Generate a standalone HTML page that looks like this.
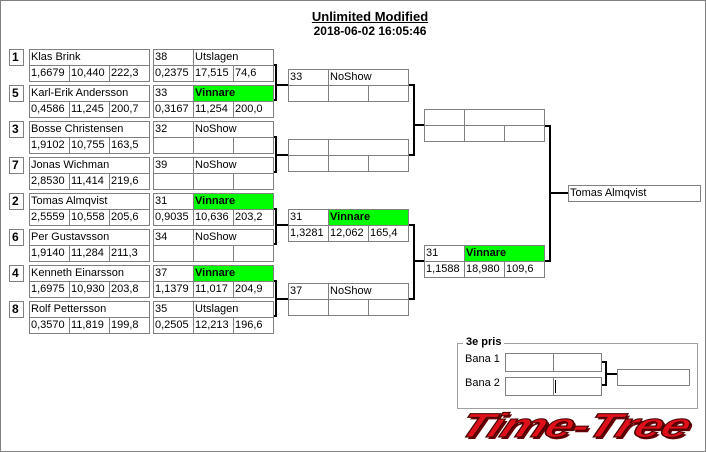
<!DOCTYPE html>
<html><head><meta charset="utf-8"><style>
body{margin:0;width:706px;height:452px;background:#fff;position:relative;overflow:hidden;font-family:"Liberation Sans",sans-serif}
.f{position:absolute;left:0;top:0;width:706px;height:452px;border:1px solid #808080;box-sizing:border-box}
.c{position:absolute;border:1px solid #808080;box-sizing:border-box;height:17px;font-size:11px;line-height:15px;padding-left:1px;white-space:nowrap;overflow:hidden;background:#fff;color:#000}
.s{font-weight:bold;font-size:12px;padding-left:2px}
.g{background:#00ff00;font-weight:bold}
.l{position:absolute;background:#000}
.t{position:absolute;font-size:12px;font-weight:bold;text-align:center;width:706px;left:17px}
</style></head><body>
<div class="f"></div>
<div class="t" style="top:9px;font-size:13px;text-decoration:underline">Unlimited Modified</div>
<div class="t" style="top:24px">2018-06-02 16:05:46</div>

<div class="c s" style="left:9px;top:49px;width:15px">1</div>
<div class="c" style="left:29px;top:49px;width:121px">Klas Brink</div>
<div class="c" style="left:29px;top:65px;width:41px">1,6679</div><div class="c" style="left:69px;top:65px;width:41px">10,440</div><div class="c" style="left:109px;top:65px;width:41px">222,3</div>
<div class="c" style="left:153px;top:49px;width:41px">38</div><div class="c" style="left:193px;top:49px;width:81px">Utslagen</div>
<div class="c" style="left:153px;top:65px;width:41px">0,2375</div><div class="c" style="left:193px;top:65px;width:41px">17,515</div><div class="c" style="left:233px;top:65px;width:41px">74,6</div>

<div class="c s" style="left:9px;top:85px;width:15px">5</div>
<div class="c" style="left:29px;top:85px;width:121px">Karl-Erik Andersson</div>
<div class="c" style="left:29px;top:101px;width:41px">0,4586</div><div class="c" style="left:69px;top:101px;width:41px">11,245</div><div class="c" style="left:109px;top:101px;width:41px">200,7</div>
<div class="c" style="left:153px;top:85px;width:41px">33</div><div class="c g" style="left:193px;top:85px;width:81px">Vinnare</div>
<div class="c" style="left:153px;top:101px;width:41px">0,3167</div><div class="c" style="left:193px;top:101px;width:41px">11,254</div><div class="c" style="left:233px;top:101px;width:41px">200,0</div>

<div class="c s" style="left:9px;top:121px;width:15px">3</div>
<div class="c" style="left:29px;top:121px;width:121px">Bosse Christensen</div>
<div class="c" style="left:29px;top:137px;width:41px">1,9102</div><div class="c" style="left:69px;top:137px;width:41px">10,755</div><div class="c" style="left:109px;top:137px;width:41px">163,5</div>
<div class="c" style="left:153px;top:121px;width:41px">32</div><div class="c" style="left:193px;top:121px;width:81px">NoShow</div>
<div class="c" style="left:153px;top:137px;width:41px"></div><div class="c" style="left:193px;top:137px;width:41px"></div><div class="c" style="left:233px;top:137px;width:41px"></div>

<div class="c s" style="left:9px;top:157px;width:15px">7</div>
<div class="c" style="left:29px;top:157px;width:121px">Jonas Wichman</div>
<div class="c" style="left:29px;top:173px;width:41px">2,8530</div><div class="c" style="left:69px;top:173px;width:41px">11,414</div><div class="c" style="left:109px;top:173px;width:41px">219,6</div>
<div class="c" style="left:153px;top:157px;width:41px">39</div><div class="c" style="left:193px;top:157px;width:81px">NoShow</div>
<div class="c" style="left:153px;top:173px;width:41px"></div><div class="c" style="left:193px;top:173px;width:41px"></div><div class="c" style="left:233px;top:173px;width:41px"></div>

<div class="c s" style="left:9px;top:193px;width:15px">2</div>
<div class="c" style="left:29px;top:193px;width:121px">Tomas Almqvist</div>
<div class="c" style="left:29px;top:209px;width:41px">2,5559</div><div class="c" style="left:69px;top:209px;width:41px">10,558</div><div class="c" style="left:109px;top:209px;width:41px">205,6</div>
<div class="c" style="left:153px;top:193px;width:41px">31</div><div class="c g" style="left:193px;top:193px;width:81px">Vinnare</div>
<div class="c" style="left:153px;top:209px;width:41px">0,9035</div><div class="c" style="left:193px;top:209px;width:41px">10,636</div><div class="c" style="left:233px;top:209px;width:41px">203,2</div>

<div class="c s" style="left:9px;top:229px;width:15px">6</div>
<div class="c" style="left:29px;top:229px;width:121px">Per Gustavsson</div>
<div class="c" style="left:29px;top:245px;width:41px">1,9140</div><div class="c" style="left:69px;top:245px;width:41px">11,284</div><div class="c" style="left:109px;top:245px;width:41px">211,3</div>
<div class="c" style="left:153px;top:229px;width:41px">34</div><div class="c" style="left:193px;top:229px;width:81px">NoShow</div>
<div class="c" style="left:153px;top:245px;width:41px"></div><div class="c" style="left:193px;top:245px;width:41px"></div><div class="c" style="left:233px;top:245px;width:41px"></div>

<div class="c s" style="left:9px;top:265px;width:15px">4</div>
<div class="c" style="left:29px;top:265px;width:121px">Kenneth Einarsson</div>
<div class="c" style="left:29px;top:281px;width:41px">1,6975</div><div class="c" style="left:69px;top:281px;width:41px">10,930</div><div class="c" style="left:109px;top:281px;width:41px">203,8</div>
<div class="c" style="left:153px;top:265px;width:41px">37</div><div class="c g" style="left:193px;top:265px;width:81px">Vinnare</div>
<div class="c" style="left:153px;top:281px;width:41px">1,1379</div><div class="c" style="left:193px;top:281px;width:41px">11,017</div><div class="c" style="left:233px;top:281px;width:41px">204,9</div>

<div class="c s" style="left:9px;top:301px;width:15px">8</div>
<div class="c" style="left:29px;top:301px;width:121px">Rolf Pettersson</div>
<div class="c" style="left:29px;top:317px;width:41px">0,3570</div><div class="c" style="left:69px;top:317px;width:41px">11,819</div><div class="c" style="left:109px;top:317px;width:41px">199,8</div>
<div class="c" style="left:153px;top:301px;width:41px">35</div><div class="c" style="left:193px;top:301px;width:81px">Utslagen</div>
<div class="c" style="left:153px;top:317px;width:41px">0,2505</div><div class="c" style="left:193px;top:317px;width:41px">12,213</div><div class="c" style="left:233px;top:317px;width:41px">196,6</div>

<div class="c" style="left:288px;top:69px;width:41px">33</div><div class="c" style="left:328px;top:69px;width:81px">NoShow</div>
<div class="c" style="left:288px;top:85px;width:41px"></div><div class="c" style="left:328px;top:85px;width:41px"></div><div class="c" style="left:368px;top:85px;width:41px"></div>
<div class="c" style="left:288px;top:139px;width:41px"></div><div class="c" style="left:328px;top:139px;width:81px"></div>
<div class="c" style="left:288px;top:155px;width:41px"></div><div class="c" style="left:328px;top:155px;width:41px"></div><div class="c" style="left:368px;top:155px;width:41px"></div>
<div class="c" style="left:288px;top:209px;width:41px">31</div><div class="c g" style="left:328px;top:209px;width:81px">Vinnare</div>
<div class="c" style="left:288px;top:225px;width:41px">1,3281</div><div class="c" style="left:328px;top:225px;width:41px">12,062</div><div class="c" style="left:368px;top:225px;width:41px">165,4</div>
<div class="c" style="left:288px;top:283px;width:41px">37</div><div class="c" style="left:328px;top:283px;width:81px">NoShow</div>
<div class="c" style="left:288px;top:299px;width:41px"></div><div class="c" style="left:328px;top:299px;width:41px"></div><div class="c" style="left:368px;top:299px;width:41px"></div>

<div class="c" style="left:424px;top:109px;width:41px"></div><div class="c" style="left:464px;top:109px;width:81px"></div>
<div class="c" style="left:424px;top:125px;width:41px"></div><div class="c" style="left:464px;top:125px;width:41px"></div><div class="c" style="left:504px;top:125px;width:41px"></div>
<div class="c" style="left:424px;top:245px;width:41px">31</div><div class="c g" style="left:464px;top:245px;width:81px">Vinnare</div>
<div class="c" style="left:424px;top:261px;width:41px">1,1588</div><div class="c" style="left:464px;top:261px;width:41px">18,980</div><div class="c" style="left:504px;top:261px;width:41px">109,6</div>

<div class="c" style="left:568px;top:185px;width:133px">Tomas Almqvist</div>

<div class="l" style="left:274px;top:64px;width:3px;height:2px"></div><div class="l" style="left:275px;top:64px;width:2px;height:37px"></div><div class="l" style="left:274px;top:99px;width:3px;height:2px"></div><div class="l" style="left:276px;top:84px;width:12px;height:2px"></div>
<div class="l" style="left:274px;top:136px;width:3px;height:2px"></div><div class="l" style="left:275px;top:136px;width:2px;height:37px"></div><div class="l" style="left:274px;top:171px;width:3px;height:2px"></div><div class="l" style="left:276px;top:154px;width:12px;height:2px"></div>
<div class="l" style="left:274px;top:208px;width:3px;height:2px"></div><div class="l" style="left:275px;top:208px;width:2px;height:37px"></div><div class="l" style="left:274px;top:243px;width:3px;height:2px"></div><div class="l" style="left:276px;top:224px;width:12px;height:2px"></div>
<div class="l" style="left:274px;top:280px;width:3px;height:2px"></div><div class="l" style="left:275px;top:280px;width:2px;height:37px"></div><div class="l" style="left:274px;top:315px;width:3px;height:2px"></div><div class="l" style="left:276px;top:298px;width:12px;height:2px"></div>
<div class="l" style="left:409px;top:84px;width:5px;height:2px"></div><div class="l" style="left:413px;top:84px;width:2px;height:72px"></div><div class="l" style="left:409px;top:154px;width:5px;height:2px"></div><div class="l" style="left:414px;top:124px;width:10px;height:2px"></div>
<div class="l" style="left:409px;top:224px;width:5px;height:2px"></div><div class="l" style="left:413px;top:224px;width:2px;height:76px"></div><div class="l" style="left:409px;top:298px;width:5px;height:2px"></div><div class="l" style="left:414px;top:260px;width:10px;height:2px"></div>
<div class="l" style="left:545px;top:125px;width:5px;height:2px"></div><div class="l" style="left:549px;top:125px;width:2px;height:137px"></div><div class="l" style="left:545px;top:260px;width:5px;height:2px"></div><div class="l" style="left:550px;top:192px;width:18px;height:2px"></div>

<div style="position:absolute;left:457px;top:343px;width:241px;height:66px;border:1px solid #a0a0a0;box-sizing:border-box"></div>
<div style="position:absolute;left:463px;top:336px;background:#fff;padding:0 3px;font-size:11px;font-weight:bold">3e pris</div>
<div style="position:absolute;left:465px;top:353px;font-size:11px">Bana 1</div>
<div style="position:absolute;left:465px;top:377px;font-size:11px">Bana 2</div>
<div class="c" style="left:505px;top:353px;width:49px;height:19px"></div><div class="c" style="left:553px;top:353px;width:49px;height:19px"></div>
<div class="c" style="left:505px;top:377px;width:49px;height:19px"></div><div class="c" style="left:553px;top:377px;width:49px;height:19px"></div>
<div class="l" style="left:555px;top:380px;width:1px;height:13px"></div>
<div class="l" style="left:602px;top:361px;width:4px;height:2px"></div><div class="l" style="left:605px;top:361px;width:2px;height:25px"></div><div class="l" style="left:602px;top:384px;width:4px;height:2px"></div><div class="l" style="left:606px;top:373px;width:11px;height:2px"></div>
<div class="c" style="left:617px;top:369px;width:73px"></div>

<div style="position:absolute;left:375px;top:406px;width:400px;text-align:center;font-size:34px;line-height:40px;font-weight:bold;font-style:italic;color:#e0101a;letter-spacing:-1px;transform:scaleX(1.5) skewX(-15deg);-webkit-text-stroke:1px #400;text-shadow:2px 2px 0 #600">Time-Tree</div>
</body></html>
